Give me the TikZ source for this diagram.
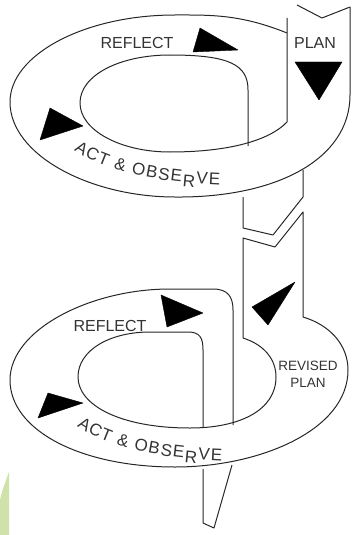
\documentclass[tikz,border=0pt]{standalone}
\usepackage{fontspec}
\setmainfont{Liberation Sans}
\usetikzlibrary{decorations.text}
\definecolor{leaf}{RGB}{206,226,170}
\newcommand{\obsfont}{\fontsize{17}{17}\selectfont}
\begin{document}
\begin{tikzpicture}[x=1pt,y=-1pt,line join=round,
  band/.style={line width=1pt, draw=black!85},
  arrowhead/.style={fill=black, draw=black, line width=0.4pt},
  lbl/.style={text=black!80, inner sep=0pt, font=\fontsize{16}{16}\selectfont},
  smalllbl/.style={text=black!80, inner sep=0pt, font=\fontsize{13.5}{14}\selectfont},
  curvedlbl/.style={decorate, decoration={text along path, text align=fit to path,
    text color=black!80, text={|\obsfont|ACT {\&} OBSE{\raisebox{-4.5pt}{R}}VE}}}]
\useasboundingbox (0,0) rectangle (353,535);
% faint leaf at the lower left
\fill[leaf] (9,472) .. controls (4,485) and (1,495) .. (0,500) -- (0,535) -- (9,535) -- cycle;
% first cycle: outer edge
\draw[band] (287,33) .. controls (240,14) and (210,15) .. (175,15) .. controls (84,15) and (10,55) .. (10,102);
\draw[band] (10,102) .. controls (10,155) and (90,197) .. (175,197) .. controls (275,198) and (350,160) .. (350,95) -- (350,7);
% first cycle: inner edge
\draw[band] (80,103) .. controls (80,75) and (120,55) .. (170,55) .. controls (230,55) and (248,65) .. (248,90) -- (248,146);
\draw[band] (80,103) .. controls (80,130) and (120,152) .. (170,152) .. controls (230,152) and (270,140) .. (287,122) -- (287,18);
% top of the plan strip
\draw[band] (297,5) -- (322,18) -- (350,7);
% strip between the cycles
\draw[band] (243,197) -- (243,228) -- (273,235) -- (303,197) -- (303,170);
\draw[band] (243,338) -- (243,238) -- (275,247) -- (303,212) -- (303,317);
% second cycle: outer edge
\draw[band] (10,380) .. controls (10,330) and (90,289) .. (170,289) -- (213,289) .. controls (228,289) and (233,297) .. (233,310) -- (233,425);
\draw[band] (303,317) .. controls (330,325) and (348,345) .. (348,370) .. controls (348,430) and (260,467) .. (175,467) .. controls (80,467) and (10,430) .. (10,380);
% second cycle: inner edge
\draw[band] (78,377) .. controls (78,350) and (110,332) .. (150,332) -- (188,332) .. controls (200,332) and (203,338) .. (203,350) -- (203,427);
\draw[band] (243,338) .. controls (265,345) and (276,360) .. (276,377) .. controls (276,410) and (240,428) .. (190,428) .. controls (120,428) and (78,405) .. (78,377);
% tail
\draw[band] (232,465) -- (214,528) -- (203,523) -- (203,469);
% arrowheads
\filldraw[arrowhead] (200,28) -- (193,52) -- (238,50) -- cycle;
\filldraw[arrowhead] (295,62) -- (342,62) -- (319,100) -- cycle;
\filldraw[arrowhead] (50,108) -- (40,140) -- (83,126) -- cycle;
\filldraw[arrowhead] (161,295) -- (167,327) -- (203,313) -- cycle;
\filldraw[arrowhead] (295,282) -- (252,307) -- (268,325) -- cycle;
\filldraw[arrowhead] (48,393) -- (38,418) -- (83,403) -- cycle;
% labels, first cycle
\node[lbl] (reflectA) at (137,43) {REFLECT};
\node[lbl] (planA) at (315,43) {PLAN};
\path[curvedlbl] (74,150) .. controls (102,169) and (147,182) .. (220,185);
% labels, second cycle
\node[lbl] (reflectB) at (110,326) {REFLECT};
\node[smalllbl] (revisedB) at (308,366) {REVISED};
\node[smalllbl] (planB) at (308,383) {PLAN};
\path[curvedlbl] (77,426) .. controls (105,445) and (150,458) .. (222,461);
\end{tikzpicture}
\end{document}
